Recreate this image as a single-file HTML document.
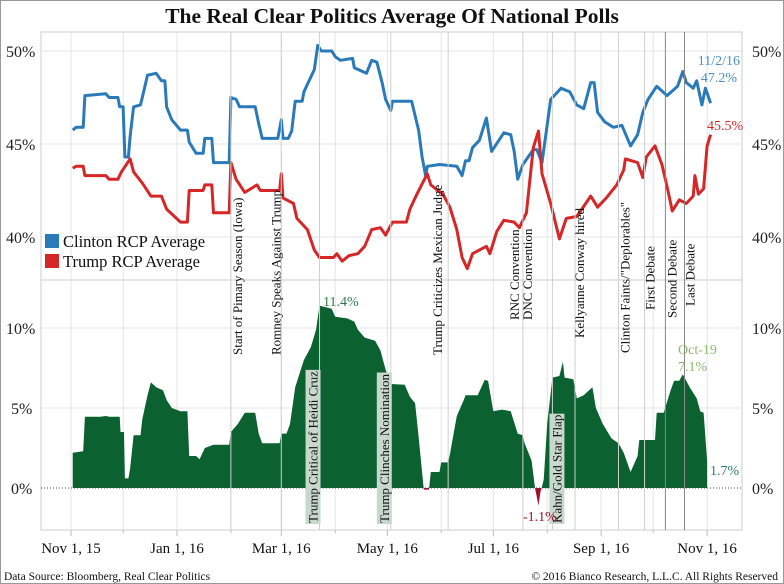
<!DOCTYPE html>
<html><head><meta charset="utf-8"><style>
html,body{margin:0;padding:0;background:#fff}
svg{display:block;font-family:"Liberation Serif",serif}
</style></head><body>
<svg id="chart" width="784" height="584" viewBox="0 0 784 584">
<rect x="0.5" y="0.5" width="783" height="583" fill="#fff" stroke="#999"/>
<text x="392" y="23" text-anchor="middle" font-size="21.5" font-weight="bold" fill="#111">The Real Clear Politics Average Of National Polls</text>
<g id="grid"></g>
<g id="annots"></g>
<g id="marks"></g>
<g id="axes"></g>
<g>
<rect x="45" y="234" width="14" height="14" fill="#2a7ab9"/>
<text x="63" y="247" font-size="16.5" fill="#111">Clinton RCP Average</text>
<rect x="45" y="254" width="14" height="14" fill="#d62728"/>
<text x="63" y="267" font-size="16.5" fill="#111">Trump RCP Average</text>
</g>
<text x="4" y="580" font-size="11.5" fill="#111">Data Source: Bloomberg, Real Clear Politics</text>
<text x="778" y="580" text-anchor="end" font-size="11.5" fill="#111">© 2016 Bianco Research, L.L.C. All Rights Reserved</text>
</svg>
<script>
const clintonDays=[1,3,7,8,20,22,27,28,30,31,33,34,36,40,41,44,49,52,54,55,58,63,67,68,72,76,77,81,82,91,92,95,97,106,108,110,119,121,122,125,127,129,133,134,137,140,142,144,150,152,155,162,163,170,173,176,179,181,184,185,196,200,202,204,205,212,222,225,227,229,231,235,239,242,249,253,255,257,260,266,268,271,276,282,287,291,295,299,301,303,307,312,317,322,326,329,332,337,343,349,352,354,358,360,363,365,368];
const clintonVals=[45.75,45.9,45.9,47.6,47.7,47.5,47.5,47.0,47.0,44.3,44.3,45.4,47.0,47.1,47.5,48.7,48.8,48.4,48.4,47.0,46.3,45.75,45.75,45.1,44.5,44.5,45.3,45.3,44.0,44.0,47.5,47.4,47.0,47.0,46.1,45.3,45.3,46.3,45.3,45.3,45.7,47.3,47.3,47.8,48.4,49.0,50.3,50.0,50.0,49.7,49.5,49.6,49.1,48.8,49.5,49.4,48.3,47.4,46.8,47.3,47.3,45.75,44.3,43.3,43.8,43.9,43.8,43.3,44.1,44.1,44.8,45.2,46.4,44.6,45.6,45.5,44.6,43.1,43.9,44.7,44.7,44.0,47.4,48.0,47.8,47.1,46.9,48.3,48.3,46.7,46.2,45.9,46.0,44.9,45.5,46.7,47.4,48.1,47.6,48.1,48.9,48.3,48.0,48.4,47.1,48.0,47.2];
const trumpDays=[1,3,7,8,20,22,27,29,34,36,41,46,52,55,63,67,68,76,77,81,82,91,92,95,100,107,109,120,121,122,128,130,136,140,143,151,153,156,160,165,169,173,178,181,185,193,195,199,205,207,214,218,222,225,228,231,239,241,245,249,255,258,262,266,269,271,276,281,285,291,299,303,308,314,318,319,326,329,331,336,340,343,346,350,354,358,359,361,364,366,368];
const trumpVals=[43.7,43.8,43.8,43.3,43.3,43.1,43.1,43.5,44.2,43.5,42.9,42.2,42.2,41.5,40.8,40.8,42.5,42.5,42.8,42.8,41.3,41.3,44.0,43.1,42.4,42.8,42.5,42.5,43.4,42.1,41.8,41.0,40.4,39.3,38.9,38.9,39.1,38.7,39.0,39.1,39.5,40.4,40.5,40.1,40.8,40.8,41.5,42.3,43.4,42.8,42.3,41.6,40.4,38.9,38.3,39.1,39.5,39.1,40.3,40.9,40.8,40.5,41.3,44.8,45.7,43.4,41.8,39.9,41.0,41.1,42.2,41.6,42.1,42.8,43.6,44.2,44.0,43.2,44.3,44.9,43.9,42.7,41.4,42.0,41.8,42.2,43.3,42.3,42.6,44.9,45.5];
const spreadDays=[1,7,8,17,20,22,28,28.5,30.5,31,33,34,36,40,41,44,46,49,53,55,58,63,67,68,72,74,77,82,91,92,96,100,106,108,110,120,121,124,126,129,134,138,141,143,150,152,159,163,165,169,175,178,181,184,192,195,198,200,203,206,207,212,213,217,218,222,226,227,234,238,240,243,248,253,257,260,261,265,267,269,270,272,274,277,281,283,284,289,291,295,300,302,306,311,315,318,322,326,327,336,337,341,345,347,350,352,356,360,362,364,366];
const spreadVals=[2.2,2.3,4.45,4.45,4.5,4.45,4.45,3.5,3.5,0.6,0.6,1.2,3.3,3.3,4.3,5.8,6.6,6.3,6.1,5.5,5.0,4.8,4.8,2.0,2.0,1.8,2.5,2.7,2.7,3.5,4.0,4.7,4.7,3.4,2.8,2.8,3.4,3.4,4.0,6.3,8.0,8.8,9.9,11.4,11.2,10.7,10.6,10.4,9.9,9.4,9.2,8.6,7.4,6.5,6.45,5.7,5.3,3.2,-0.1,-0.1,1.0,1.0,1.6,1.6,2.1,4.5,5.5,5.8,5.8,6.75,6.7,4.8,4.9,4.8,3.4,3.3,2.8,1.7,0,-1.1,-0.3,0.5,4.0,6.9,7.0,7.9,6.9,6.8,5.6,5.8,6.3,5.0,4.0,3.1,2.8,2.2,1.0,2.0,3.0,3.0,4.7,4.7,6.1,6.7,6.7,7.1,6.3,5.6,4.8,4.7,1.7];
const topTicks=[40,45,50];
const botTicks=[0,5,10];
const monthDays=[-31,0,30,61,92,121,152,182,213,243,274,305,335,366,396];
const labelDays=[0,61,121,182,243,305,366];
const labelText=["Nov 1, 15","Jan 1, 16","Mar 1, 16","May 1, 16","Jul 1, 16","Sep 1, 16","Nov 1, 16"];
const eventDays=[92,121,143,184,217,260,260,277,290,315,330,342,353];
const eventText=["Start of Pimary Season (Iowa)","Romney Speaks Against Trump","Trump Critical of Heidi Cruz","Trump Clinches Nomination","Trump Criticizes Mexican Judge","RNC Convention","DNC Convention","Kahn/Gold Star Flap","Kellyanne Conway hired","Clinton Faints/\"Deplorables\"","First Debate","Second Debate","Last Debate"];

const NS="http://www.w3.org/2000/svg";
const L=41,R=742,T1=32,B1=280,B2=530;
const xs=d=>71+d*1.738;
const yTop=v=>51+(50-v)*18.6;
const yBot=v=>488-v*16;
function mk(tag,attrs,parent){const e=document.createElementNS(NS,tag);for(const k in attrs)e.setAttribute(k,attrs[k]);parent.appendChild(e);return e;}
const grid=document.getElementById('grid'),ann=document.getElementById('annots'),marks=document.getElementById('marks'),axes=document.getElementById('axes');

let f1=mk('rect',{x:L,y:T1,width:R-L,height:B1-T1,fill:'none',stroke:'#ccc'},grid);


let f2=mk('rect',{x:L,y:B1,width:R-L,height:B2-B1,fill:'none',stroke:'#ccc'},grid);


monthDays.forEach(d=>{const x=xs(d);if(x<=L||x>=R)return;
 const g=mk('line',{x1:x,x2:x,y1:T1,y2:B2,stroke:'#e4e4e4','stroke-width':1},grid);
 
 
 const isMajor=labelDays.indexOf(d)>=0;
 const t=mk('line',{x1:x,x2:x,y1:B2,y2:B2+(isMajor?6:3),stroke:'#bbb'},axes);
 
 
});
topTicks.forEach(v=>{const y=yTop(v);
 const g=mk('line',{x1:L,x2:R,y1:y,y2:y,stroke:'#e4e4e4'},grid);
 
 
 [[6,'start'],[752,'start']].forEach(([x,a])=>{const t=mk('text',{x:x,y:y+6,'font-size':16,fill:'#222','text-anchor':a},axes);t.textContent=v+'%';
 
 });
});
botTicks.forEach(v=>{const y=yBot(v);
 if(v!==0){const g=mk('line',{x1:L,x2:R,y1:y,y2:y,stroke:'#e4e4e4'},grid);
 
 }
 [[v===10?6:11,'start'],[752,'start']].forEach(([x,a])=>{const t=mk('text',{x:x,y:y+6,'font-size':16,fill:'#222','text-anchor':a},axes);t.textContent=v+'%';
 
 });
});
labelDays.forEach((d,i)=>{const t=mk('text',{x:xs(d),y:553,'font-size':15,fill:'#111','text-anchor':'middle'},axes);t.textContent=labelText[i];
 
 });

eventDays.forEach((d,i)=>{if(i===6)return;const x=xs(d);
 const dark=(i>=11);
 const ln=mk('line',{x1:x,x2:x,y1:T1,y2:B2,stroke:dark?'#888':'#d0d0d0','stroke-width':1},ann);
 
 
});

const defs=mk('defs',{},marks);
mk('rect',{x:0,y:0,width:784,height:yBot(0)},mk('clipPath',{id:'cpPos'},defs));
mk('rect',{x:0,y:yBot(0),width:784,height:200},mk('clipPath',{id:'cpNeg'},defs));
let dA='M'+xs(spreadDays[0])+','+yBot(0);
spreadDays.forEach((d,i)=>{dA+=' L'+xs(d).toFixed(1)+','+yBot(spreadVals[i]).toFixed(1);});
dA+=' L'+xs(spreadDays[spreadDays.length-1])+','+yBot(0)+' Z';
const ap=mk('path',{d:dA,fill:'#0b6130','clip-path':'url(#cpPos)'},marks);


const an=mk('path',{d:dA,fill:'#a0102a','clip-path':'url(#cpNeg)'},marks);


const zl=mk('line',{x1:L,x2:R,y1:yBot(0),y2:yBot(0),stroke:'#444','stroke-dasharray':'1,2'},marks);



function line(days,vals,col,name){let d='';days.forEach((dd,i)=>{d+=(i?' L':'M')+xs(dd).toFixed(1)+','+yTop(vals[i]).toFixed(1);});
 const p=mk('path',{d:d,fill:'none',stroke:col,'stroke-width':3,'stroke-linejoin':'round'},marks);
 
 }
line(clintonDays,clintonVals,'#2a7ab9','clinton-line');
line(trumpDays,trumpVals,'#d62728','trump-line');

const boxed=[2,3,7];
const starts=[355,355,523,523,355,320,320,523,338,353,310,318,306];
const offs=[11,-1,-2,-2,-6,-4,9,9,9,11,10,11,10];
eventDays.forEach((d,i)=>{const x=xs(d)+offs[i];
 const y=starts[i];
 const t=mk('text',{x:0,y:0,'font-size':13,fill:'#111',transform:`translate(${x},${y}) rotate(-90)`},ann);
 t.textContent=eventText[i];
 
 
 if(boxed.indexOf(i)>=0){const bb=t.getBBox();
  const r=mk('rect',{x:bb.x-1,y:bb.y,width:bb.width+2,height:bb.height,fill:'#c8d8cc',transform:`translate(${x},${y}) rotate(-90)`},ann);
  ann.insertBefore(r,t);
  
  }
});
marks.parentNode.insertBefore(marks,ann);

function call(x,y,txt,col,name,anchor){const t=mk('text',{x:x,y:y,'font-size':14,fill:col,'text-anchor':anchor||'start'},axes);t.textContent=txt;
 
 }
call(323,306,'11.4%','#2e7d4f','max-spread-callout');
call(740,65,'11/2/16','#4a90c8','clinton-date-callout','end');
call(737,82,'47.2%','#4a90c8','clinton-last-callout','end');
call(707,130,'45.5%','#d62728','trump-last-callout');
call(678,354,'Oct-19','#8cb86a','oct19-callout');
call(678,371,'7.1%','#8cb86a','oct19-value-callout');
call(710,475,'1.7%','#2e7d6f','last-spread-callout');
call(523,521,'-1.1%','#a0102a','min-spread-callout');
</script>
</body></html>
